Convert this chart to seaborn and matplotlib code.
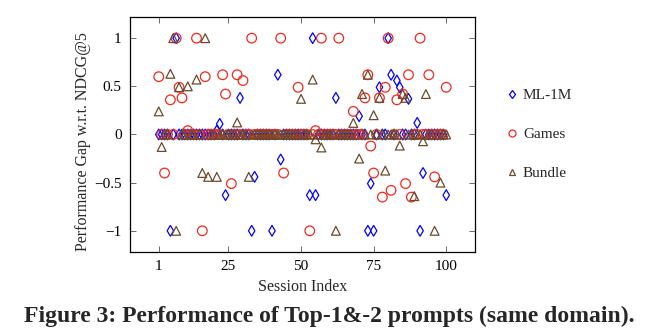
import matplotlib
matplotlib.use("Agg")
import matplotlib.pyplot as plt
import seaborn as sns
import pandas as pd
from matplotlib.lines import Line2D

sessions = list(range(1, 101))

ml1m = [
    0, 0, 0, 0, -1, 0, 1, 0, 0, 0,
    0, 0, 0, 0, 0, 0, 0, 0, 0, 0,
    0.04, 0.11, 0, -0.63, 0, 0, 0, 0, 0.38, 0,
    0, 0, -1, -0.44, 0, 0, 0, 0, 0, -1,
    0, 0.62, -0.26, 0, 0, 0, 0, 0, 0, 0,
    0, 0, -0.63, 1, -0.63, 0, 0, 0, 0, 0,
    0, 0.38, 0, 0, 0, 0, 0, 0, 0, 0.19,
    0, 0, -1, -0.51, -1, 0, 0.49, 0, 0, 1,
    0.62, 0, 0.56, 0.49, 0, 0, 0.37, 0, 0, 0.12,
    -1, -0.4, 0, 0, 0, 0, 0, 0, 0, -0.63,
]

games = [
    0.6, 0, -0.4, 0, 0.36, 0, 1, 0.49, 0.38, 0,
    0.04, 0, 0, 1, 0, -1, 0.6, 0, 0, 0,
    0, 0, 0.62, 0.42, 0, -0.51, 0, 0.62, 0, 0.56,
    0, 0, 1, 0, 0, 0, 0, 0, 0, 0,
    0, 0, 1, -0.4, 0, 0, 0, 0, 0.49, 0,
    0, 0, -1, 0, 0.04, 0, 1, 0, 0, 0,
    0, 0, 1, 0, 0, 0, 0, 0.24, 0, 0,
    0, 0.38, 0.62, -0.12, -0.4, 0, 0.38, -0.65, 0.49, 1,
    -0.58, 0, 0.36, 0, 0.42, -0.51, 0.62, -0.65, 0, 0,
    1, 0, 0, 0.62, 0, -0.44, 0, 0, 0, 0.49,
]

bundle = [
    0.24, -0.13, 0, 0, 0.63, 1, -1, 0.49, 0, 0,
    0.5, 0, 0, 0.57, 0, -0.4, 1, -0.44, 0, 0,
    -0.44, 0, 0, 0, 0, 0, 0, 0.125, 0, 0,
    0, -0.44, 0, 0, 0, 0, 0, 0, 0, 0,
    0, 0, 0, 0, 0, 0, 0, 0, 0, 0.37,
    0, 0, 0, 0.57, -0.05, 0, -0.135, 0, 0, 0,
    0, -1, 0, 0, 0, 0, 0, 0.12, 0, -0.25,
    0.42, 0, 0.62, 0, 0.2, 0, 0.38, 0, -0.375, 0,
    0, 0, 0, -0.115, 0.42, 0.38, 0, 0, -0.64, 0,
    0, -0.07, 0.42, 0, 0, -1, 0, -0.5, 0, 0,
]

series_names = ["ML-1M", "Games", "Bundle"]
series_values = [ml1m, games, bundle]
series_colors = ["#0000ff", "#ee2a1e", "#6b4a2b"]
series_markers = ["d", "o", "^"]
series_sizes = [30, 48, 40]

x_ticks = [1, 25, 50, 75, 100]
y_ticks = [-1, -0.5, 0, 0.5, 1]

df = pd.concat(
    [pd.DataFrame({"session": sessions, "gap": vals, "dataset": name})
     for name, vals in zip(series_names, series_values)],
    ignore_index=True,
)

sns.set_theme(style="white")
plt.rcParams["font.family"] = ["Liberation Serif", "DejaVu Serif"]
plt.rcParams["mathtext.fontset"] = "dejavuserif"

fig = plt.figure(figsize=(6.52, 3.35), dpi=100)
ax = fig.add_axes([0.1994, 0.2478, 0.5291, 0.7015])

for name, color, marker, size in zip(series_names, series_colors, series_markers, series_sizes):
    sub = df[df["dataset"] == name]
    sns.scatterplot(
        data=sub, x="session", y="gap", ax=ax,
        marker=marker, s=size, color=color,
        facecolor="none", edgecolor=color, linewidth=0.9,
        legend=False, zorder=3,
    )

ax.set_xlim(-8.9, 109.9)
ax.set_ylim(-1.22, 1.22)
ax.set_xticks(x_ticks)
ax.set_xticklabels([str(t) for t in x_ticks])
ax.set_yticks(y_ticks)
ax.set_yticklabels(["\u22121", "\u22120.5", "0", "0.5", "1"])
ax.tick_params(direction="in", length=4, width=0.6, color="#555555",
               top=True, right=True, bottom=True, left=True,
               labelsize=11, labelcolor="black", pad=6)
for sp in ax.spines.values():
    sp.set_color("black")
    sp.set_linewidth(0.9)

ax.set_xlabel("Session Index", fontsize=11.5, labelpad=4)
ax.set_ylabel("Performance Gap w.r.t. NDCG@5", fontsize=11.5)
ax.yaxis.set_label_coords(-0.114, 0.47)

handles = [
    Line2D([0], [0], linestyle="none", marker=m, markersize=ms,
           markerfacecolor="none", markeredgecolor=c, markeredgewidth=0.9, label=n)
    for n, c, m, ms in zip(series_names, series_colors, series_markers, [4.5, 5, 4.5])
]
ax.legend(handles=handles, loc="center left", bbox_to_anchor=(1.075, 0.5),
          frameon=False, fontsize=11, labelspacing=1.65,
          handlelength=0.6, handletextpad=0.45, borderaxespad=0)

fig.text(0.5046, 0.055, "Figure 3: Performance of Top-1&-2 prompts (same domain).",
         ha="center", va="center", fontsize=17, fontweight="bold")

fig.savefig("out.png", dpi=100)
